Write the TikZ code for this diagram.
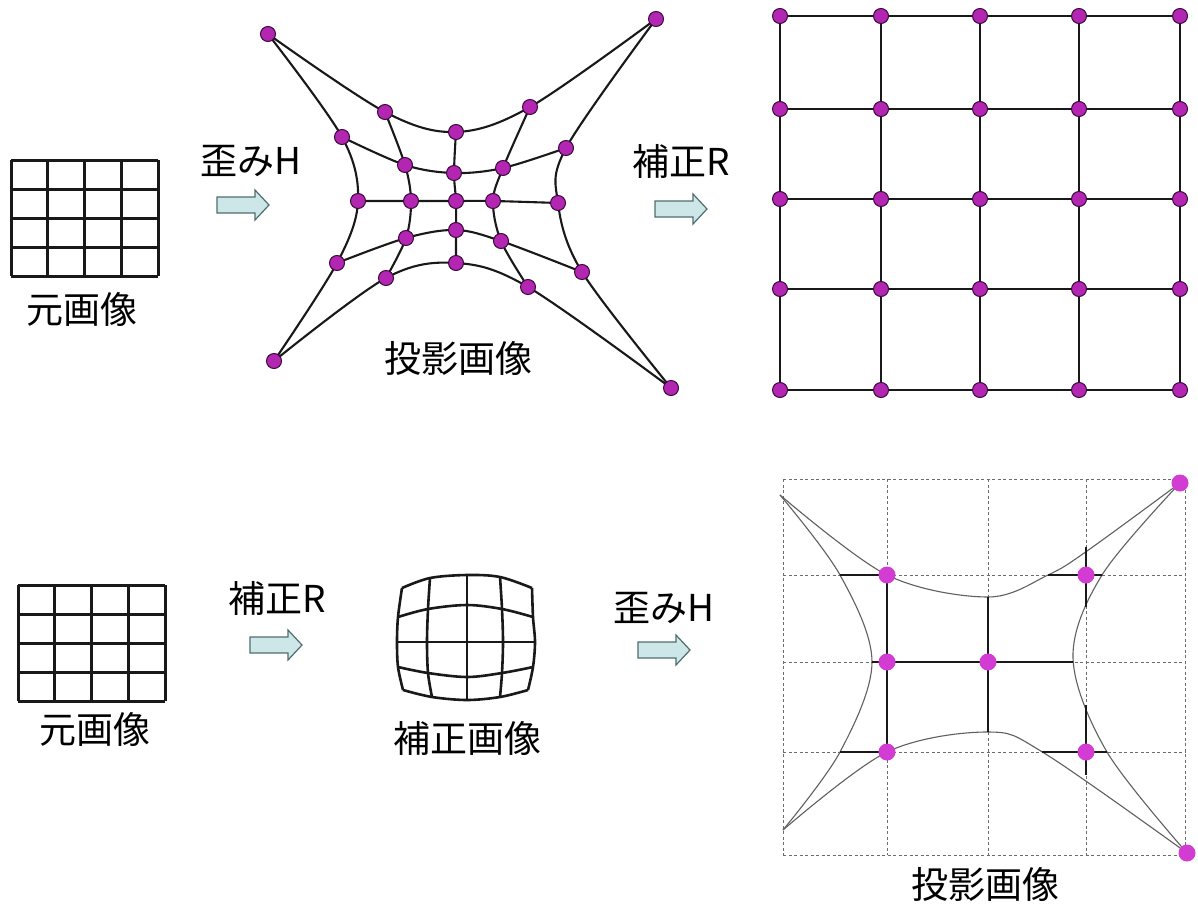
\documentclass[tikz,border=0pt]{standalone}
\usepackage{fontspec}
\setmainfont{Noto Sans CJK JP}
\definecolor{dotfill}{RGB}{178,38,178}
\definecolor{dotedge}{RGB}{60,10,60}
\definecolor{dotlight}{RGB}{210,60,210}
\definecolor{arrfill}{RGB}{205,230,232}
\definecolor{arredge}{RGB}{80,110,112}
\definecolor{ink}{RGB}{25,25,25}
\begin{document}
\begin{tikzpicture}[x=1pt,y=-1pt,
  lbl/.style={inner sep=0pt,font=\fontsize{37}{40}\selectfont},
  gridline/.style={draw=ink,line width=3pt},
  sqline/.style={draw=ink,line width=2.7pt},
  pline/.style={draw=ink,line width=2.1pt},
  bline/.style={draw=ink,line width=2.6pt,line join=round},
  pdot/.style={circle,fill=dotfill,draw=dotedge,line width=1pt,minimum size=15pt,inner sep=0pt},
  ldot/.style={circle,fill=dotlight,minimum size=17pt,inner sep=0pt},
  dashgrid/.style={draw=gray!85!black,line width=0.9pt,dash pattern=on 3pt off 2.5pt},
  thincurve/.style={draw=gray!75!black,line width=1.1pt},
  thickseg/.style={draw=ink,line width=2.8pt},
  pics/blockarrow/.style={code={\draw[fill=arrfill,draw=arredge,line width=1.2pt] (0,-8) -- (38,-8) -- (38,-15) -- (52,0) -- (38,15) -- (38,8) -- (0,8) -- cycle;}}
]
\fill[white] (0,0) rectangle (1198,907);
\useasboundingbox (0,0) rectangle (1198,907);

% ---------- top-left original grid
\foreach \i/\x in {0/11,1/47.75,2/84.5,3/121.25,4/158}{
  \coordinate (ta\i) at (\x,160); \coordinate (tb\i) at (\x,276);}
\foreach \i/\y in {0/160,1/189,2/218,3/247,4/276}{
  \coordinate (tl\i) at (11,\y); \coordinate (tr\i) at (158,\y);}
\foreach \i in {0,...,4}{
  \draw[gridline] (ta\i) -- (tb\i);
  \draw[gridline] (tl\i) -- (tr\i);}
\node[lbl] (lblA) at (82,309) {元画像};

% arrow 1
\node[lbl,anchor=west] (lblB) at (200,161) {歪みH};
\pic at (217,205) {blockarrow};

% ---------- pincushion (top middle)
\foreach \n/\x/\y in {
  p00/268/34, p01/385/112, p02/456/132, p03/530/107, p04/656/19,
  p10/342/137, p11/405/165, p12/454/173, p13/503/168, p14/566/148,
  p20/358/201, p21/411/201, p22/456/201, p23/493/201, p24/558/203,
  p30/337/263, p31/406/238, p32/456/230, p33/501/241, p34/582/272,
  p40/274/361, p41/386/278, p42/456/263, p43/528/287, p44/671/388}
  \coordinate (\n) at (\x,\y);
\foreach \r in {0,...,4}{
  \draw[pline] plot[smooth,tension=0.55] coordinates {(p\r0) (p\r1) (p\r2) (p\r3) (p\r4)};
  \draw[pline] plot[smooth,tension=0.55] coordinates {(p0\r) (p1\r) (p2\r) (p3\r) (p4\r)};}
\foreach \r in {0,...,4}{\foreach \c in {0,...,4}{
  \node[pdot] (dp\r\c) at (p\r\c) {};}}
\node[lbl] (lblC) at (458,358) {投影画像};

% arrow 2
\node[lbl,anchor=west] (lblD) at (632,161) {補正R};
\pic at (655,209) {blockarrow};

% ---------- corrected square grid (top right)
\foreach \r/\y in {0/16,1/109,2/199,3/289,4/390}{
  \foreach \c/\x in {0/780,1/881,2/980,3/1079,4/1180}{
    \coordinate (g\r\c) at (\x,\y);}}
\foreach \r in {0,...,4}{
  \draw[sqline] (g\r0) -- (g\r1) -- (g\r2) -- (g\r3) -- (g\r4);
  \draw[sqline] (g0\r) -- (g1\r) -- (g2\r) -- (g3\r) -- (g4\r);}
\foreach \r in {0,...,4}{\foreach \c in {0,...,4}{
  \node[pdot] (dg\r\c) at (g\r\c) {};}}

% ---------- bottom-left original grid
\foreach \i/\x in {0/18,1/54.75,2/91.5,3/128.25,4/165}{
  \coordinate (ba\i) at (\x,585); \coordinate (bb\i) at (\x,701);}
\foreach \i/\y in {0/585,1/614,2/643,3/672,4/701}{
  \coordinate (bl\i) at (18,\y); \coordinate (br\i) at (165,\y);}
\foreach \i in {0,...,4}{
  \draw[gridline] (ba\i) -- (bb\i);
  \draw[gridline] (bl\i) -- (br\i);}
\node[lbl] (lblE) at (95,729) {元画像};

% arrow 3
\node[lbl,anchor=west] (lblF) at (228,598) {補正R};
\pic at (250,645) {blockarrow};

% ---------- barrel (corrected image)
\foreach \n/\x/\y in {
  q00/402/588, q01/430/578, q02/467/575, q03/500/577, q04/532/588,
  q10/398/617, q11/428/609, q12/467/605, q13/502/609, q14/533/617,
  q20/397/642, q21/427/642, q22/467/642, q23/503/642, q24/535/642,
  q30/398/667, q31/428/673, q32/467/677, q33/502/673, q34/533/667,
  q40/403/690, q41/432/697, q42/467/700, q43/500/697, q44/528/690}
  \coordinate (\n) at (\x,\y);
\foreach \r in {0,...,4}{
  \draw[bline] plot[smooth,tension=0.55] coordinates {(q\r0) (q\r1) (q\r2) (q\r3) (q\r4)};
  \draw[bline] plot[smooth,tension=0.55] coordinates {(q0\r) (q1\r) (q2\r) (q3\r) (q4\r)};}
\node[lbl] (lblG) at (467,738) {補正画像};

% arrow 4
\node[lbl,anchor=west] (lblH) at (613,608) {歪みH};
\pic at (638,650) {blockarrow};

% ---------- projected image (bottom right)
\foreach \r/\y in {0/479,1/575,2/662,3/752,4/855}{
  \foreach \c/\x in {0/783,1/887,2/988,3/1086,4/1185}{
    \coordinate (h\r\c) at (\x,\y);}}
\foreach \r in {0,...,4}{
  \draw[dashgrid] (h\r0) -- (h\r4);
  \draw[dashgrid] (h0\r) -- (h4\r);}
% outline curves
\coordinate (cTL) at (780,495);
\coordinate (cTR) at (1180,483);
\coordinate (cBL) at (783,830);
\coordinate (cBR) at (1187,853);
\draw[thincurve] plot[smooth,tension=0.55] coordinates {(cTL) (887,575) (988,597) (1048,575) (1087,551) (cTR)};
\draw[thincurve] plot[smooth,tension=0.55] coordinates {(cTL) (840,575) (872,662) (840,752) (cBL)};
\draw[thincurve] plot[smooth,tension=0.55] coordinates {(cTR) (1102,575) (1073,658) (1107,752) (cBR)};
\draw[thincurve] plot[smooth,tension=0.55] coordinates {(cBL) (887,752) (988,732) (1044,753) (cBR)};
% thick clipped grid segments
\coordinate (s1a) at (840,575);  \coordinate (s1b) at (1048,575); \coordinate (s1c) at (1102,575);
\coordinate (s2a) at (872,662);  \coordinate (s2b) at (1073,662);
\coordinate (s3a) at (840,752);  \coordinate (s3b) at (1042,752); \coordinate (s3c) at (1107,752);
\coordinate (v2a) at (988,597);  \coordinate (v2b) at (988,732);
\coordinate (v3a) at (1086,547); \coordinate (v3b) at (1086,607);
\coordinate (v3c) at (1086,705); \coordinate (v3d) at (1086,775);
\draw[thickseg] (s1a) -- (h11);
\draw[thickseg] (s1b) -- (s1c);
\draw[thickseg] (h11) -- (h31);
\draw[thickseg] (s2a) -- (s2b);
\draw[thickseg] (v2a) -- (v2b);
\draw[thickseg] (v3a) -- (v3b);
\draw[thickseg] (v3c) -- (v3d);
\draw[thickseg] (s3a) -- (h31);
\draw[thickseg] (s3b) -- (s3c);
% dots
\node[ldot] (e1) at (h11) {};
\node[ldot] (e2) at (h13) {};
\node[ldot] (e3) at (h21) {};
\node[ldot] (e4) at (h22) {};
\node[ldot] (e5) at (h31) {};
\node[ldot] (e6) at (h33) {};
\node[ldot] (e7) at (cTR) {};
\node[ldot] (e8) at (cBR) {};
\node[lbl] (lblI) at (985,884) {投影画像};
\end{tikzpicture}
\end{document}
